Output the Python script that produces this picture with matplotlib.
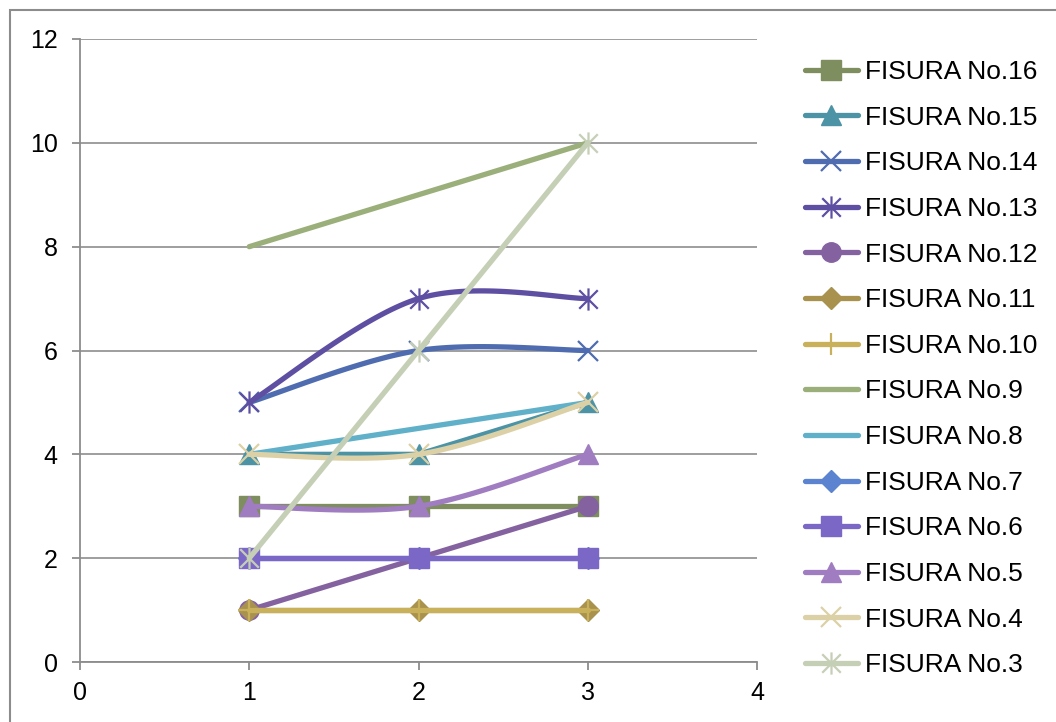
import numpy as np
import matplotlib
matplotlib.use("Agg")
import matplotlib.pyplot as plt
from matplotlib.path import Path
from matplotlib.patches import Rectangle

plt.rcParams['font.family'] = ['Liberation Sans', 'DejaVu Sans']

# ---- data ----
x_vals = [1, 2, 3]
labels = ["FISURA No.16", "FISURA No.15", "FISURA No.14", "FISURA No.13",
          "FISURA No.12", "FISURA No.11", "FISURA No.10", "FISURA No.9",
          "FISURA No.8", "FISURA No.7", "FISURA No.6", "FISURA No.5",
          "FISURA No.4", "FISURA No.3"]
fis16 = [3, 3, 3]
fis15 = [4, 4, 5]
fis14 = [5, 6, 6]
fis13 = [5, 7, 7]
fis12 = [1, 2, 3]
fis11 = [1, 1, 1]
fis10 = [1, 1, 1]
fis9 = [8, 9, 10]
fis8 = [4, 4.5, 5]
fis7 = [2, 2, 2]
fis6 = [2, 2, 2]
fis5 = [3, 3, 4]
fis4 = [4, 4, 5]
fis3 = [2, 6, 10]
values = [fis16, fis15, fis14, fis13, fis12, fis11, fis10, fis9,
          fis8, fis7, fis6, fis5, fis4, fis3]
smooth = [False, False, True, True, False, False, False, False,
          False, False, False, True, True, False]

colors = ["#7E8E5E", "#4B93A5", "#4E6CAF", "#5E4FA2", "#8462A0", "#A8924E",
          "#C9B15B", "#9AAF7A", "#5FB0C8", "#5B83CF", "#7B68C6", "#A07CC0",
          "#DCD1A6", "#C5CFB6"]

# Excel-style asterisk (x plus vertical bar)
d = 0.5
star_path = Path([(-d, -d), (d, d), (-d, d), (d, -d), (0, -0.6), (0, 0.6)],
                 [Path.MOVETO, Path.LINETO, Path.MOVETO, Path.LINETO,
                  Path.MOVETO, Path.LINETO])
plus_path = Path([(-0.5, 0), (0.5, 0), (0, -0.5), (0, 0.5)],
                 [Path.MOVETO, Path.LINETO, Path.MOVETO, Path.LINETO])
markers = ['s', '^', 'x', star_path, 'o', 'D', plus_path, None,
           None, 'D', 's', '^', 'x', star_path]
msizes = [15, 15, 14, 16, 14, 11, 16, 0, 0, 11, 15, 15, 14, 16]
thin = [False, False, True, True, False, False, True, False,
        False, False, False, False, True, True]


def bezier_smooth(xs, ys, n=40):
    """Excel-like smoothed line through the points (cubic Bezier)."""
    P = np.column_stack([xs, ys]).astype(float)
    m = len(P)
    out = [P[0]]
    idx = [0]
    t = np.linspace(0, 1, n + 1)[1:]
    for i in range(m - 1):
        p0 = P[i - 1] if i > 0 else P[i]
        p1 = P[i]
        p2 = P[i + 1]
        p3 = P[i + 2] if i + 2 < m else P[i + 1]
        c1 = p1 + (p2 - p0) / 6.0
        c2 = p2 - (p3 - p1) / 6.0
        for tt in t:
            pt = ((1 - tt) ** 3) * p1 + 3 * ((1 - tt) ** 2) * tt * c1 + \
                 3 * (1 - tt) * tt ** 2 * c2 + tt ** 3 * p2
            out.append(pt)
        idx.append(len(out) - 1)
    out = np.array(out)
    return out[:, 0], out[:, 1], idx


W, H = 1056, 722
fig = plt.figure(figsize=(W / 100, H / 100), dpi=100)
fig.patch.set_facecolor('white')

# chart border
fig.patches.append(Rectangle((10 / W, -0.1), 1.2, (H - 10) / H + 0.1,
                             transform=fig.transFigure, fill=False,
                             edgecolor='#8C8C8C', linewidth=1.5))

ax = fig.add_axes([80 / W, (H - 662) / H, (757 - 80) / W, (662 - 39) / H])
ax.set_xlim(0, 4)
ax.set_ylim(0, 12)
ax.set_xticks([0, 1, 2, 3, 4])
ax.set_yticks([0, 2, 4, 6, 8, 10, 12])
ax.yaxis.grid(True, color='#969696', linewidth=1.3)
ax.set_axisbelow(True)
for s in ['top', 'right']:
    ax.spines[s].set_visible(False)
for s in ['left', 'bottom']:
    ax.spines[s].set_color('#8C8C8C')
    ax.spines[s].set_linewidth(1.3)
ax.tick_params(axis='both', direction='out', length=6, width=1.3,
               color='#8C8C8C', labelsize=18, labelcolor='black')
ax.tick_params(axis='y', pad=10)
ax.tick_params(axis='x', pad=8)

handles = []
for i, (lab, vals) in enumerate(zip(labels, values)):
    if smooth[i]:
        xs, ys, idx = bezier_smooth(x_vals, vals)
    else:
        xs, ys, idx = np.array(x_vals), np.array(vals), [0, 1, 2]
    mk = markers[i]
    kw = dict(color=colors[i], linewidth=3.8, solid_capstyle='round',
              solid_joinstyle='round', zorder=3 + i, label=lab)
    if mk is not None:
        if thin[i]:
            kw.update(marker=mk, markersize=msizes[i], markeredgewidth=1.6,
                      markeredgecolor=colors[i], markerfacecolor='none')
        else:
            kw.update(marker=mk, markersize=msizes[i], markeredgewidth=1,
                      markeredgecolor=colors[i], markerfacecolor=colors[i])
        kw['markevery'] = idx
    ln, = ax.plot(xs, ys, **kw)
    handles.append(ln)

leg = fig.legend(handles=handles, labels=labels, loc='upper left',
                 bbox_to_anchor=(805 / W, 1 - 60 / H), frameon=False,
                 fontsize=19, handlelength=2.0, handletextpad=0.27,
                 labelspacing=0.82, borderpad=0, borderaxespad=0,
                 numpoints=1)

fig.savefig("out.png", dpi=100)
